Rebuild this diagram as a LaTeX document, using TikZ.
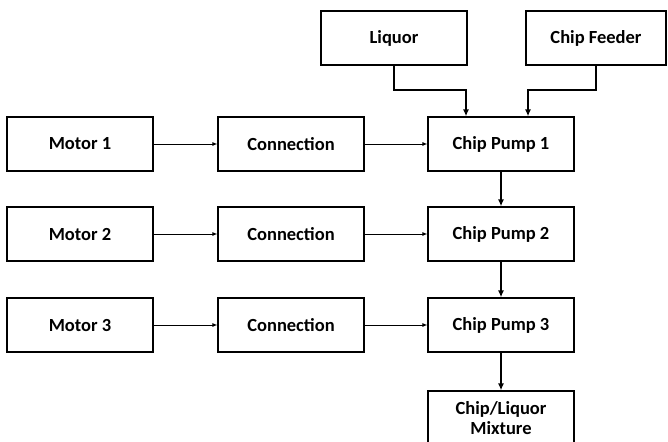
\documentclass[tikz,border=0pt]{standalone}
\usepackage{fontspec}
\setmainfont{Carlito}
\usepackage{tikz}
\usetikzlibrary{arrows.meta}

\begin{document}
\begin{tikzpicture}[x=1pt,y=-1pt,
  block/.style={draw,line width=1.2pt,minimum width=146pt,minimum height=54pt,
    inner sep=2pt,align=center,font=\fontsize{18.5}{20}\selectfont\bfseries},
  thin/.style={line width=0.9pt,-{Latex[length=5pt,width=4pt]}},
  heavy/.style={line width=2pt,-{Latex[length=7pt,width=6pt]}}]
\useasboundingbox (0,0) rectangle (668,441);
% sources on top
\node[block] (liquor) at (394,38) {Liquor};
\node[block,minimum width=140pt] (feeder) at (596,38) {Chip Feeder};
% motors, connections, pumps
\node[block] (motor1) at (80,144) {Motor 1};
\node[block] (conn1) at (291,144) {Connection};
\node[block] (pump1) at (501,144) {Chip Pump 1};
\node[block] (motor2) at (80,234) {Motor 2};
\node[block] (conn2) at (291,234) {Connection};
\node[block] (pump2) at (501,234) {Chip Pump 2};
\node[block] (motor3) at (80,325) {Motor 3};
\node[block] (conn3) at (291,325) {Connection};
\node[block] (pump3) at (501,325) {Chip Pump 3};
\node[block] (mix) at (501,418) {Chip/Liquor\\Mixture};
% arrows
\draw[heavy] (liquor.south) -- ++(0,24) -| ([xshift=-35pt]pump1.north);
\draw[heavy] (feeder.south) -- ++(0,24) -| ([xshift=27pt]pump1.north);
\draw[thin] (motor1) -- (conn1);
\draw[thin] (conn1) -- (pump1);
\draw[thin] (motor2) -- (conn2);
\draw[thin] (conn2) -- (pump2);
\draw[thin] (motor3) -- (conn3);
\draw[thin] (conn3) -- (pump3);
\draw[heavy] (pump1) -- (pump2);
\draw[heavy] (pump2) -- (pump3);
\draw[heavy] (pump3) -- (mix);
\end{tikzpicture}
\end{document}
